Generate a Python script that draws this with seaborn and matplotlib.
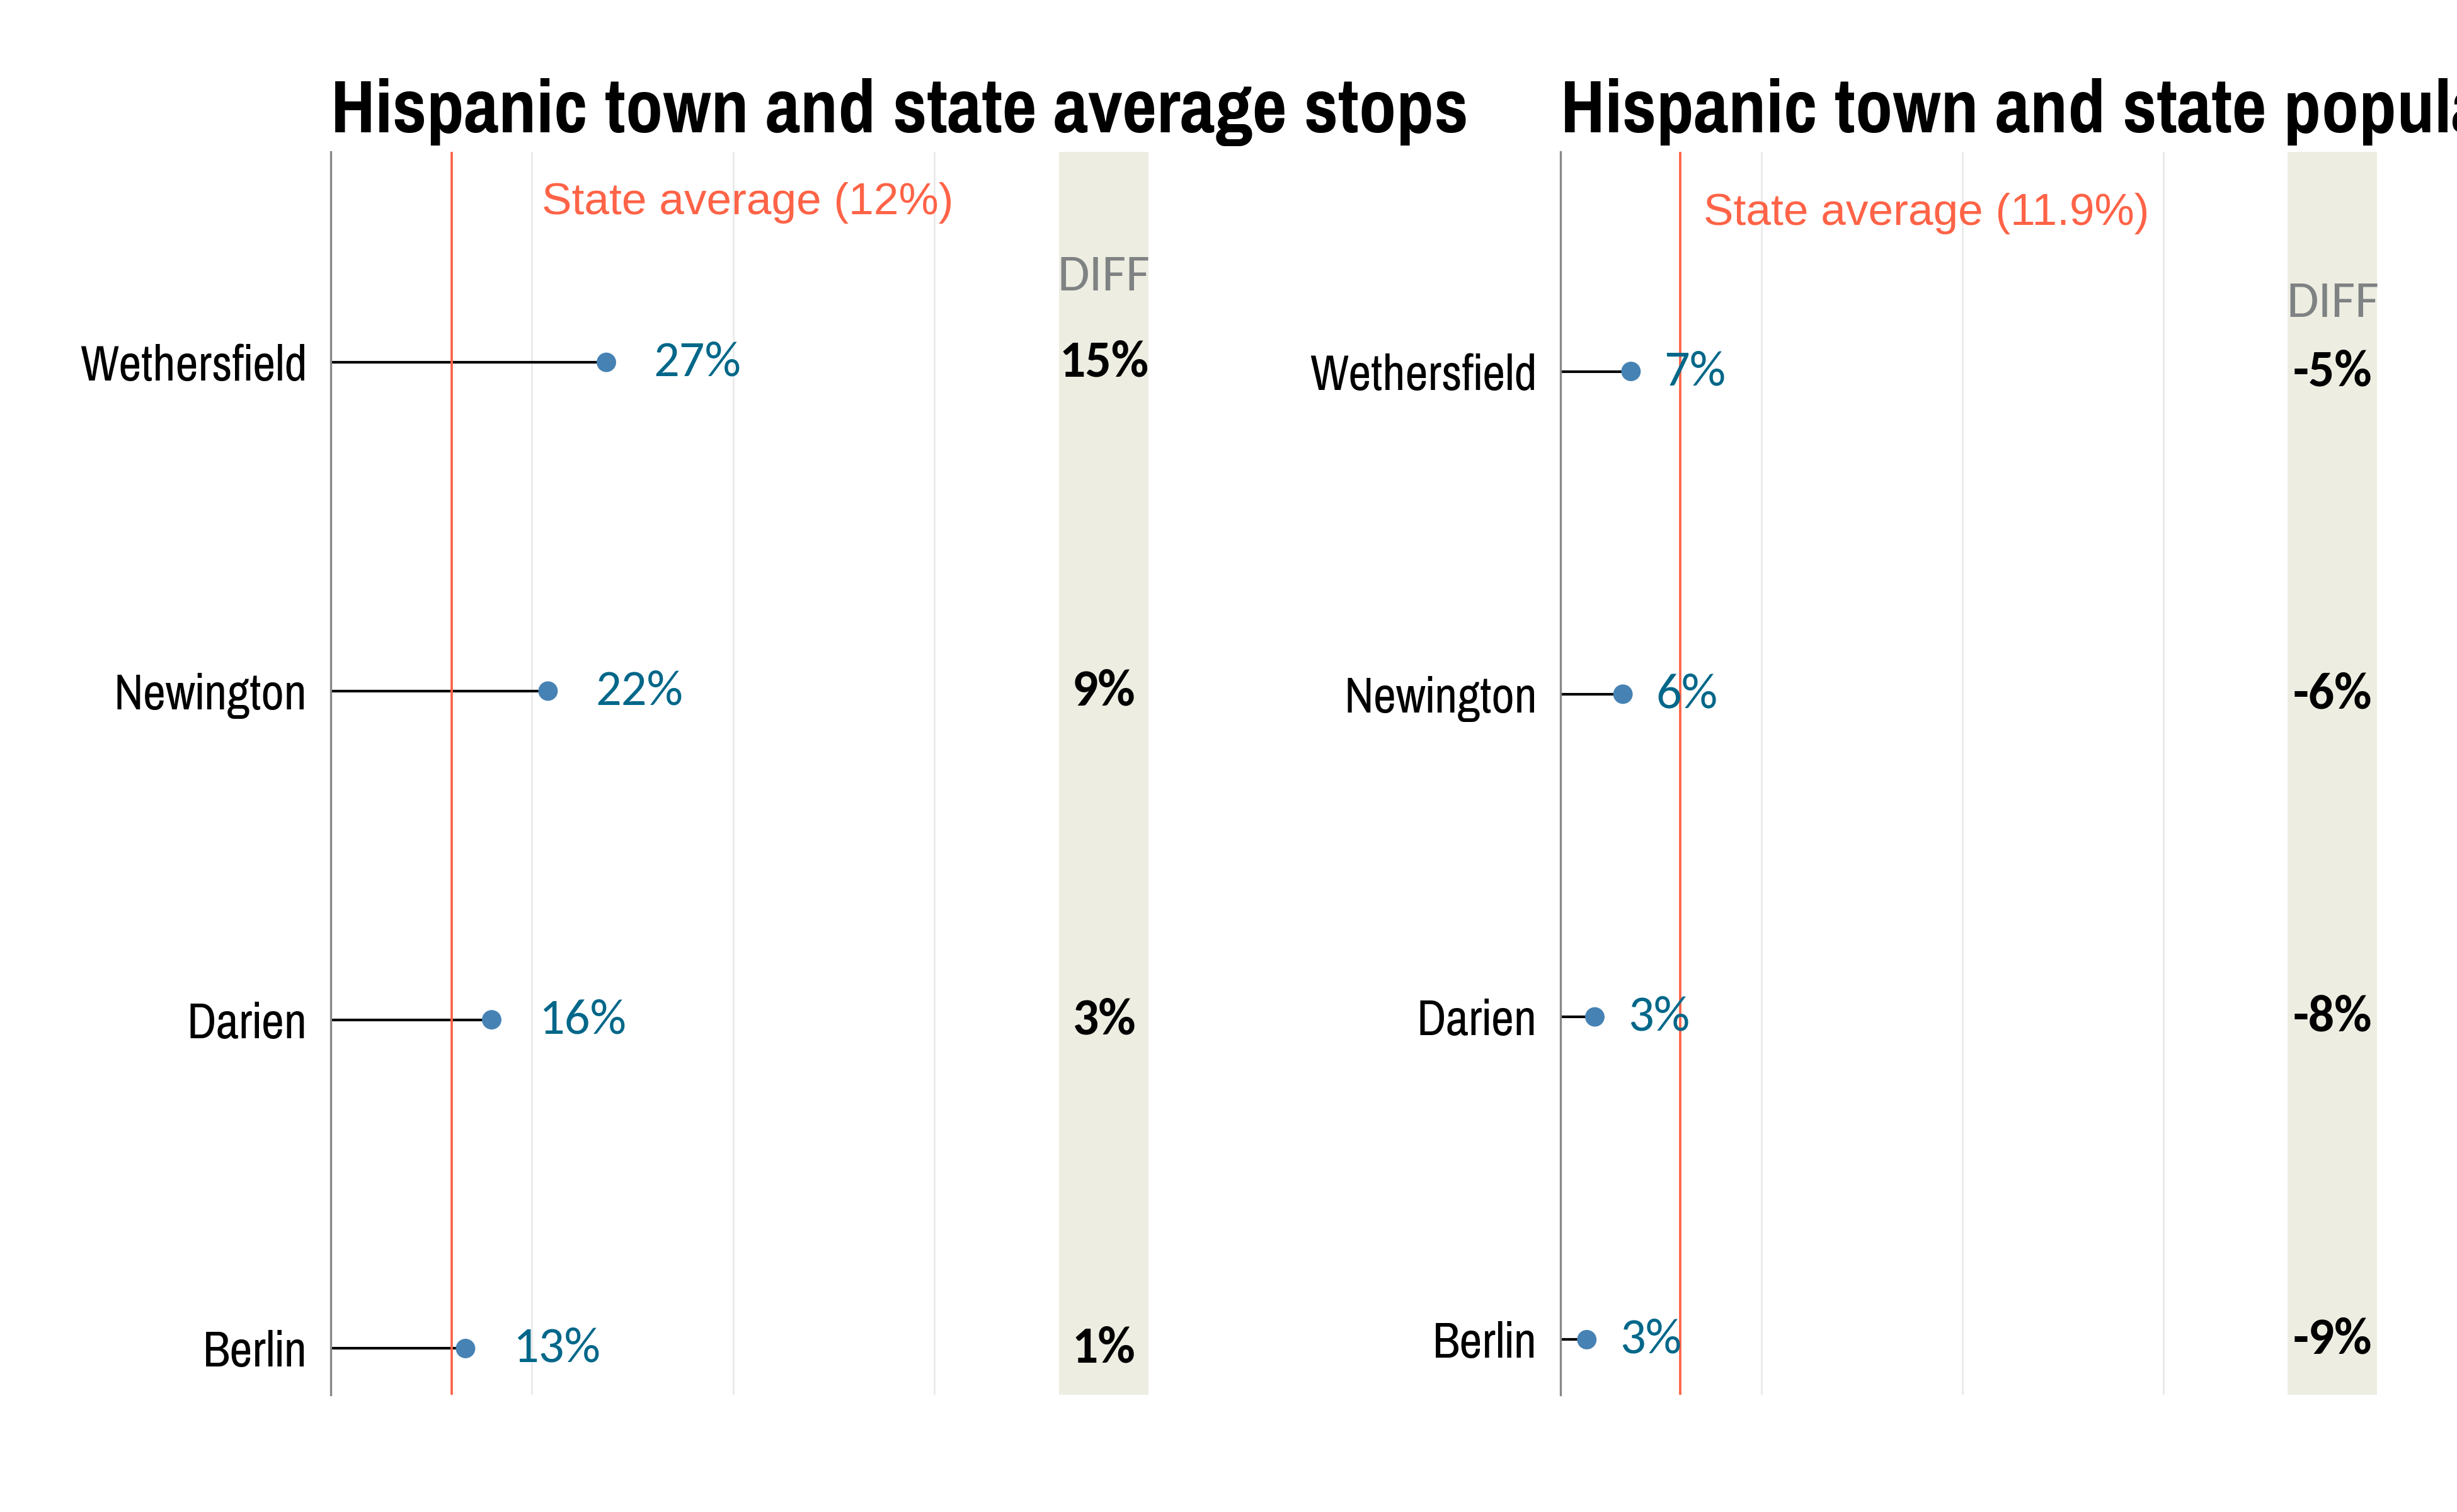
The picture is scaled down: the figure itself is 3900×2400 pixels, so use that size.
import matplotlib
matplotlib.use("Agg")
import matplotlib.pyplot as plt
import pandas as pd
import seaborn as sns

# data
towns = ["Wethersfield", "Newington", "Darien", "Berlin"]
stops_pct = [27.4, 21.6, 16.0, 13.4]
stops_diff = [15, 9, 3, 1]
stops_state = 12.0
pop_pct = [7.0, 6.2, 3.4, 2.6]
pop_diff = [-5, -6, -8, -9]
pop_state = 11.9

titles = ["Hispanic town and state average stops",
          "Hispanic town and state population"]
state_labels = ["State average (12%)", "State average (11.9%)"]

NARROW = ["Liberation Sans Narrow", "Pragati Narrow", "Archivo Narrow",
          "Roboto Condensed", "PT Sans Narrow", "IBM Plex Sans Condensed", "DejaVu Sans"]
VALUE_FONT = ["Carlito", "Lato", "DejaVu Sans"]
DOT = "#4682B4"
VALUE_COL = "#006789"
RED = "#FF6347"
BAND = "#EDEDE2"

FIG_W = 3900


def fit(fig, text, target_px):
    # scale a text's font size so its rendered width matches the reference
    r = fig.canvas.get_renderer()
    w = text.get_window_extent(r).width
    text.set_fontsize(text.get_fontsize() * target_px / w)


def lollipop(ax, values, diffs, state, state_label, title, ylim, label_off, state_x, state_y, diff_y):
    df = pd.DataFrame({"town": towns, "pct": values, "diff": diffs,
                       "pos": list(range(len(towns) - 1, -1, -1))})
    ax.set_xlim(0, 81.3)
    ax.set_ylim(*ylim)
    for gx in [20, 40, 60, 80]:
        ax.axvline(gx, color="#E8E8E8", lw=0.6, zorder=0)
    ax.axvspan(72.4, 81.3, color=BAND, lw=0, zorder=1)
    ax.hlines(df["pos"], 0, df["pct"], color="black", lw=1.0, zorder=2)
    ax.axvline(state, color=RED, lw=0.9, zorder=3)
    sns.scatterplot(data=df, x="pct", y="pos", ax=ax, color=DOT, s=55,
                    edgecolor="none", zorder=4, legend=False)
    vals, dfs = [], []
    for _, r in df.iterrows():
        vals.append(ax.text(r["pct"] + label_off, r["pos"], f"{round(r['pct'])}%",
                            color=VALUE_COL, fontsize=18, family=VALUE_FONT,
                            ha="left", va="center", zorder=5))
        dfs.append(ax.text(76.85, r["pos"], f"{r['diff']}%", color="black", fontsize=18,
                           fontweight="bold", family=VALUE_FONT, ha="center",
                           va="center", zorder=5))
    head = ax.text(76.85, diff_y, "DIFF", color="#7F8282", fontsize=17.5,
                   family=VALUE_FONT, ha="center", va="center", zorder=5)
    ax.text(state_x, state_y, state_label, color=RED, fontsize=17.1,
            family=["Liberation Sans", "DejaVu Sans"], ha="left", va="center")
    ax.set_yticks(df["pos"])
    ax.set_yticklabels(df["town"], family=NARROW, fontsize=19, color="black")
    ax.set_xticks([])
    ax.tick_params(axis="y", length=0, pad=9)
    ax.set_xlabel("")
    ax.set_ylabel("")
    for side in ["top", "right", "bottom"]:
        ax.spines[side].set_visible(False)
    ax.spines["left"].set_color("#888888")
    ax.spines["left"].set_linewidth(0.8)
    ax.set_title(title, loc="left", fontsize=28, fontweight="bold",
                 family=NARROW, pad=7.5, color="black")
    return vals, dfs, head


def main():
    sns.set_theme(style="white")
    fig = plt.figure(figsize=(13, 8), dpi=300)
    ax1 = fig.add_axes([0.1346, 0.0777, 0.3329, 0.8218])
    ax2 = fig.add_axes([0.6352, 0.0777, 0.3323, 0.8218])
    v1, d1, h1 = lollipop(ax1, stops_pct, stops_diff, stops_state, state_labels[0], titles[0],
                          (-0.14, 3.64), 4.7, 21.0, 3.486, 3.26)
    v2, d2, h2 = lollipop(ax2, pop_pct, pop_diff, pop_state, state_labels[1], titles[1],
                          (-0.17, 3.68), 3.3, 14.2, 3.49, 3.21)
    fig.canvas.draw()
    # match reference widths (in full-size pixels)
    fit(fig, ax1.title_left if hasattr(ax1, "title_left") else ax1._left_title, 1808)
    ax2._left_title.set_fontsize(ax1._left_title.get_fontsize())
    fit(fig, ax1.get_yticklabels()[0], 361)
    size = ax1.get_yticklabels()[0].get_fontsize()
    for ax in (ax1, ax2):
        for lab in ax.get_yticklabels():
            lab.set_fontsize(size)
    fit(fig, v1[0], 139)
    for t in v1[1:] + v2:
        t.set_fontsize(v1[0].get_fontsize())
    fit(fig, d1[0], 142)
    for t in d1[1:] + d2:
        t.set_fontsize(d1[0].get_fontsize())
    fit(fig, h1, 147)
    h2.set_fontsize(h1.get_fontsize())
    fig.savefig("out.png", dpi=300)
    plt.close(fig)


if __name__ == "__main__":
    main()
